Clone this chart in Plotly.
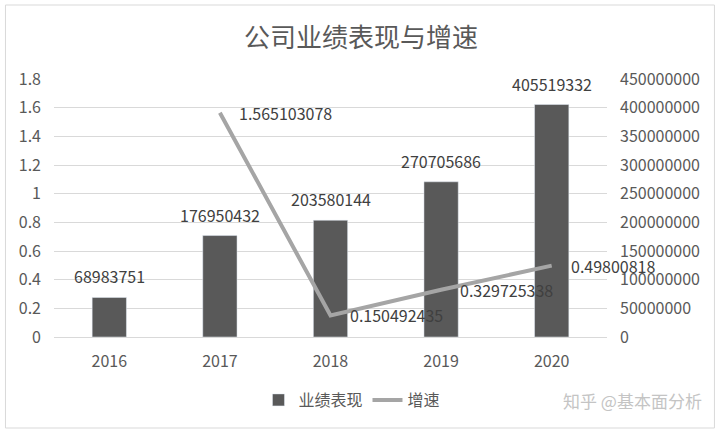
import plotly.graph_objects as go

years = ["2016", "2017", "2018", "2019", "2020"]
revenue = [68983751, 176950432, 203580144, 270705686, 405519332]
growth_years = ["2017", "2018", "2019", "2020"]
growth = [1.565103078, 0.150492435, 0.329725338, 0.49800818]
growth_labels = ["1.565103078", "0.150492435", "0.329725338", "0.49800818"]

FONT = "Noto Sans CJK SC, Noto Sans, sans-serif"
W, H = 720, 435
L, R, T, B = 53.6, 607.4, 79, 337
FS = 16

fig = go.Figure()
fig.add_trace(go.Bar(
    x=years, y=revenue, name="业绩表现", marker_color="#595959",
    yaxis="y", hoverinfo="skip"))
fig.add_trace(go.Scatter(
    x=growth_years, y=growth, name="增速", mode="lines",
    line=dict(color="#a5a5a5", width=4), yaxis="y2", hoverinfo="skip"))

ann = []
for x, v in zip(years, revenue):
    ann.append(dict(x=years.index(x), y=v, xref="x", yref="y", text=str(v), showarrow=False,
                    yshift=21, yanchor="middle", xanchor="center",
                    font=dict(family=FONT, size=FS, color="#404040")))
for x, v, t in zip(growth_years, growth, growth_labels):
    ann.append(dict(x=years.index(x), y=v, xref="x", yref="y2", text=t, showarrow=False,
                    xshift=17, xanchor="left", yanchor="middle",
                    font=dict(family=FONT, size=FS, color="#404040")))
ann.append(dict(x=(705 - L) / (R - L), y=(B - 400) / (B - T), xref="paper", yref="paper",
                text="知乎 @基本面分析", showarrow=False, xanchor="right", yanchor="middle",
                font=dict(family=FONT, size=17, color="#c4c4c4")))

fw = R - L
fh = B - T
frame = dict(type="rect", xref="paper", yref="paper",
             x0=(5 - L) / fw, x1=(715 - L) / fw,
             y0=(B - 428) / fh, y1=(B - 5) / fh,
             line=dict(color="#d9d9d9", width=1), fillcolor="rgba(0,0,0,0)", layer="below")

fig.update_layout(
    width=W, height=H,
    margin=dict(l=L, r=W - R, t=T, b=H - B, pad=0),
    paper_bgcolor="white", plot_bgcolor="white",
    font=dict(family=FONT, color="#595959"),
    title=dict(text="公司业绩表现与增速", x=(361) / W, xanchor="center",
               y=1 - 38 / H, yanchor="middle",
               font=dict(family=FONT, size=26, color="#595959")),
    bargap=0.69,
    showlegend=True,
    legend=dict(orientation="h", x=(352 - L) / fw, xanchor="center",
                y=(B - 400) / fh, yanchor="middle",
                font=dict(family=FONT, size=FS, color="#595959"),
                bgcolor="rgba(0,0,0,0)"),
    xaxis=dict(type="category", range=[-0.5, 4.5], showgrid=False, showline=True,
               linecolor="#d9d9d9", linewidth=1, ticks="",
               tickfont=dict(family=FONT, size=FS, color="#595959"),
               ticklabelstandoff=10, zeroline=False),
    yaxis=dict(side="right", range=[0, 450000000], dtick=50000000, showgrid=True,
               gridcolor="#d9d9d9", gridwidth=1, zeroline=False, showline=False,
               tickformat="d", ticks="", ticklabelstandoff=12,
               tickfont=dict(family=FONT, size=FS, color="#595959")),
    yaxis2=dict(side="left", overlaying="y", range=[0, 1.8], dtick=0.2, showgrid=False,
                zeroline=False, showline=False, ticks="", ticklabelstandoff=12,
                tickformat="~g",
                tickfont=dict(family=FONT, size=FS, color="#595959")),
    annotations=ann,
    shapes=[frame],
)

fig.write_html("out.html")
